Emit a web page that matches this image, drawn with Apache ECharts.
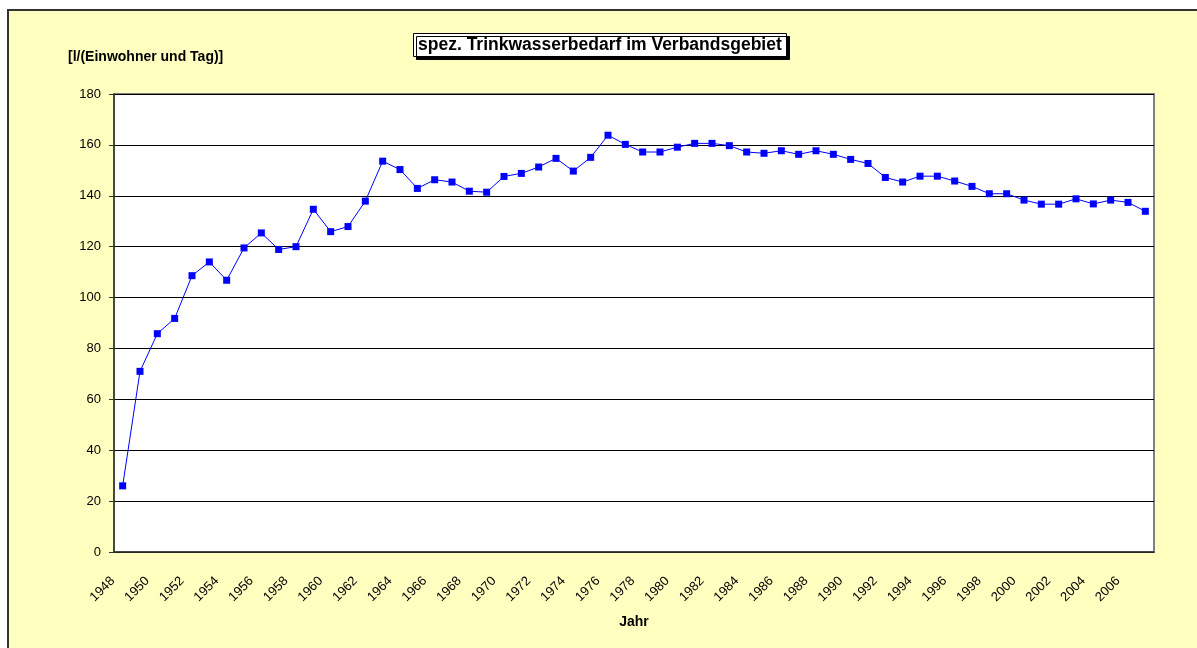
<!DOCTYPE html>
<html>
<head>
<meta charset="utf-8">
<script src="https://cdn.jsdelivr.net/npm/echarts@6/dist/echarts.min.js"></script>
<style>
    html, body { margin: 0; padding: 0; background: #fff; }
    #chart { width: 1197px; height: 648px; }
</style>
</head>
<body>
<div id="chart"></div>
<script>
    // Jahre 1948 - 2007
    const years = [];
    for (let y = 1948; y <= 2007; y++) years.push(String(y));

    // spez. Trinkwasserbedarf [l/(Einwohner und Tag)]
    const bedarf = [
        26.0, 71.0, 85.8, 91.8, 108.6, 114.0, 106.8, 119.5, 125.4, 118.9,
        120.0, 134.7, 125.9, 127.9, 137.9, 153.6, 150.3, 142.9, 146.3, 145.4,
        141.8, 141.4, 147.6, 148.8, 151.3, 154.7, 149.7, 155.1, 163.8, 160.2,
        157.2, 157.2, 159.1, 160.6, 160.6, 159.7, 157.2, 156.7, 157.7, 156.3,
        157.7, 156.3, 154.3, 152.7, 147.2, 145.4, 147.7, 147.7, 145.8, 143.7,
        140.8, 140.8, 138.3, 136.7, 136.7, 138.8, 136.8, 138.3, 137.4, 133.9
    ];

    const yTicks = [0, 20, 40, 60, 80, 100, 120, 140, 160, 180];

    const FONT = '"Liberation Sans", Arial, sans-serif';

    const myChart = echarts.init(document.getElementById('chart'));

    const option = {
        backgroundColor: '#fff',
        animation: false,
        title: {
            text: 'spez. Trinkwasserbedarf im Verbandsgebiet',
            left: 413,
            top: 34,
            padding: [3, 5, 2, 5],
            backgroundColor: '#fff',
            borderColor: '#000',
            borderWidth: 1,
            shadowColor: '#000',
            shadowOffsetX: 3,
            shadowOffsetY: 3,
            shadowBlur: 0,
            textStyle: { fontFamily: FONT, fontSize: 17.5, fontWeight: 'bold', color: '#000', lineHeight: 17 }
        },
        graphic: [
            {
                type: 'rect',
                z: -10,
                silent: true,
                shape: { x: 8, y: 10, width: 1250, height: 700 },
                style: { fill: '#FFFFC0', stroke: '#333', lineWidth: 2 }
            },
            {
                type: 'text',
                left: 68,
                top: 50,
                style: { text: '[l/(Einwohner und Tag)]', font: 'bold 14px ' + FONT, fill: '#000' }
            }
        ],
        grid: {
            left: 114,
            right: 43,
            top: 94,
            bottom: 96,
            show: true,
            backgroundColor: '#fff',
            borderColor: '#808080',
            borderWidth: 2
        },
        xAxis: {
            type: 'category',
            data: years,
            boundaryGap: true,
            name: 'Jahr',
            nameLocation: 'middle',
            nameGap: 63,
            nameTextStyle: { fontFamily: FONT, fontSize: 14, fontWeight: 'bold', color: '#000' },
            axisLine: { lineStyle: { color: '#333', width: 1.5 } },
            axisTick: { interval: 0, length: 4, lineStyle: { color: '#333' } },
            axisLabel: {
                interval: 1,
                rotate: 45,
                margin: 17,
                padding: [0, 14, 0, 0],
                fontFamily: FONT,
                fontSize: 13,
                color: '#000'
            },
            splitLine: { show: false }
        },
        yAxis: {
            type: 'value',
            min: 0,
            max: 180,
            interval: 20,
            axisLine: { show: true, lineStyle: { color: '#333', width: 1.5 } },
            axisTick: { show: true, length: 5, lineStyle: { color: '#333' } },
            axisLabel: {
                margin: 13,
                fontFamily: FONT,
                fontSize: 13,
                color: '#000',
                formatter: v => yTicks.includes(v) ? String(v) : ''
            },
            splitLine: { lineStyle: { color: '#000', width: 1 } }
        },
        series: [
            {
                name: 'spez. Trinkwasserbedarf',
                type: 'line',
                data: bedarf,
                symbol: 'rect',
                symbolSize: 7,
                lineStyle: { color: '#0000FF', width: 1 },
                itemStyle: { color: '#0000FF' }
            }
        ]
    };

    myChart.setOption(option);
</script>
</body>
</html>
